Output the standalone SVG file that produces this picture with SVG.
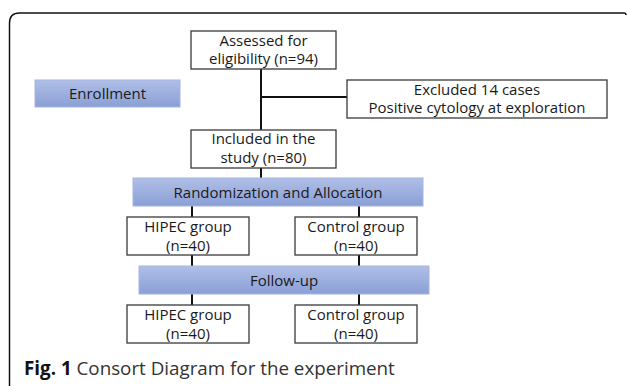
<svg xmlns="http://www.w3.org/2000/svg" width="627" height="386" viewBox="0 0 627 386">
<defs>
<linearGradient id="bar" x1="0" y1="0" x2="0" y2="1">
<stop offset="0" stop-color="#b0bfe6"/>
<stop offset="1" stop-color="#8a9fd6"/>
</linearGradient>
</defs>
<style>
.box{fill:#fff;stroke:#3a3a3a;stroke-width:1.3}
.bar{fill:url(#bar);stroke:#a3b5e2;stroke-width:1}
.t{font-family:"Open Sans","Liberation Sans",sans-serif;font-size:15px;fill:#1a1a1a;text-anchor:middle}
.c{fill:none;stroke:#111;stroke-width:2}
.cap{font-family:"Open Sans","Liberation Sans",sans-serif;font-size:18.8px;fill:#333}
</style>
<rect width="627" height="386" fill="#fff"/>
<path d="M9.5,386 V23 Q9.5,13 19.5,13 H624 q2,0 2,2" fill="none" stroke="#111" stroke-width="1.5"/>
<g id="connectors">
<path class="c" d="M261,69 V130"/>
<path class="c" d="M261,97 H347"/>
<path class="c" d="M261,168 V178"/>
<path class="c" d="M192,206 V217 M359,206 V217"/>
<path class="c" d="M192,255 V266 M359,255 V266"/>
<path class="c" d="M192,294 V305 M359,294 V305"/>
</g>
<g id="assessed"><rect class="box" x="191" y="31" width="145" height="38"/><text class="t" x="263.5" y="46">Assessed for</text><text class="t" x="263.5" y="64">eligibility (n=94)</text></g>
<g id="enrollment"><rect class="bar" x="35" y="80" width="145" height="27"/><text class="t" x="107.5" y="98.5">Enrollment</text></g>
<g id="excluded"><rect class="box" x="347" y="80" width="260" height="38"/><text class="t" x="477" y="95">Excluded 14 cases</text><text class="t" x="477" y="113">Positive cytology at exploration</text></g>
<g id="included"><rect class="box" x="191" y="130" width="145" height="38"/><text class="t" x="263.5" y="144">Included in the</text><text class="t" x="263.5" y="163">study (n=80)</text></g>
<g id="randomization"><rect class="bar" x="133" y="178" width="290" height="28"/><text class="t" x="278" y="197.5">Randomization and Allocation</text></g>
<g id="hipec1"><rect class="box" x="127" y="217" width="122" height="38"/><text class="t" x="188" y="232">HIPEC group</text><text class="t" x="188" y="251">(n=40)</text></g>
<g id="control1"><rect class="box" x="295" y="217" width="122" height="38"/><text class="t" x="356" y="232">Control group</text><text class="t" x="356" y="251">(n=40)</text></g>
<g id="followup"><rect class="bar" x="139" y="266" width="290" height="28"/><text class="t" x="284" y="285.5">Follow-up</text></g>
<g id="hipec2"><rect class="box" x="127" y="305" width="122" height="38"/><text class="t" x="188" y="320">HIPEC group</text><text class="t" x="188" y="339">(n=40)</text></g>
<g id="control2"><rect class="box" x="295" y="305" width="122" height="38"/><text class="t" x="356" y="320">Control group</text><text class="t" x="356" y="339">(n=40)</text></g>
<text class="cap" x="24" y="375"><tspan font-weight="bold" fill="#111">Fig. 1</tspan> Consort Diagram for the experiment</text>
</svg>
